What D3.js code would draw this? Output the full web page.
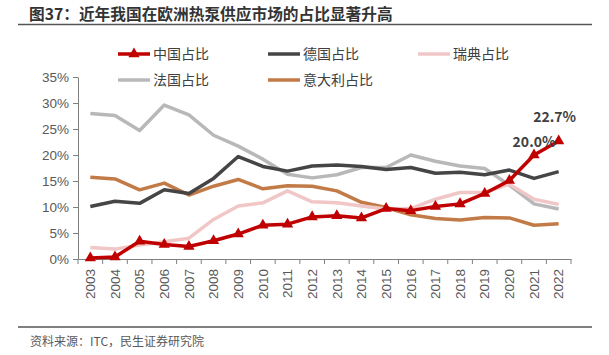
<!DOCTYPE html>
<html><head><meta charset="utf-8">
<script src="https://cdn.jsdelivr.net/npm/d3@7"></script>
<style>body{margin:0;background:#fff;}svg{display:block;font-family:"Noto Sans CJK SC","Noto Sans",sans-serif;}</style>
</head><body><svg id="c" width="609" height="355"></svg>
<script>
const years = ["2003","2004","2005","2006","2007","2008","2009","2010","2011","2012","2013","2014","2015","2016","2017","2018","2019","2020","2021","2022"];
const china   = [0.2,0.4,3.4,2.8,2.4,3.5,4.8,6.5,6.7,8.1,8.3,7.9,9.7,9.3,10.1,10.6,12.6,15.1,20.0,22.7];
const germany = [10.1,11.1,10.7,13.3,12.6,15.5,19.7,17.8,16.9,17.9,18.1,17.8,17.2,17.6,16.5,16.7,16.2,17.1,15.5,16.8];
const sweden  = [2.2,1.9,2.7,3.3,4.0,7.6,10.2,10.8,13.1,11.0,10.8,10.2,9.6,9.7,11.5,12.8,12.8,14.4,11.5,10.5];
const france  = [28.0,27.6,24.7,29.6,27.7,23.8,21.7,19.2,16.3,15.6,16.2,17.6,17.6,20.0,18.8,17.9,17.4,14.2,10.6,9.6];
const italy   = [15.7,15.4,13.3,14.6,12.3,14.0,15.3,13.5,14.1,14.0,13.1,10.9,9.9,8.5,7.8,7.5,8.0,7.9,6.5,6.8];
const yTicks  = [0,5,10,15,20,25,30,35];
const seriesNames = ["中国占比","德国占比","瑞典占比","法国占比","意大利占比"];
const seriesColors = ["#C00000","#454545","#F0C6C6","#B8B8B8","#C27B47"];
const title = "图37：近年我国在欧洲热泵供应市场的占比显著升高";
const source = "资料来源：ITC，民生证券研究院";

const svg = d3.select("#c");
const x = d3.scaleBand().domain(years).range([78, 571]);
const y = d3.scaleLinear().domain([0, 35]).range([259, 77]);
const cx = d => x(d) + x.bandwidth()/2;

// title
svg.append("text").attr("x", 29).attr("y", 19.5).attr("font-size", 15.7).attr("font-weight", "bold")
  .attr("fill", "#333").text(title);
svg.append("line").attr("x1", 18).attr("x2", 592).attr("y1", 24.5).attr("y2", 24.5).attr("stroke", "#555").attr("stroke-width", 1.3);

// axes
const ya = svg.append("g").attr("transform", "translate(78,0)")
  .call(d3.axisLeft(y).tickValues(yTicks).tickFormat(d => d + "%").tickSize(5).tickSizeOuter(0));
ya.select(".domain").attr("stroke", "#808080");
ya.selectAll(".tick line").attr("stroke", "#808080");
ya.selectAll("text").attr("font-size", 13.5).attr("fill", "#595959").attr("x", -9);

const xa = svg.append("g").attr("transform", "translate(0,259)")
  .call(d3.axisBottom(x).tickSize(0).tickSizeOuter(0));
xa.select(".domain").attr("stroke", "#808080");
xa.selectAll(".tick text").attr("font-size", 13.5).attr("fill", "#595959")
  .attr("transform", "rotate(-90)").attr("text-anchor", "end").attr("x", -10).attr("y", 0).attr("dy", "0.35em");
// boundary ticks
const bounds = years.map(d => x(d)).concat([x(years[years.length-1]) + x.bandwidth()]);
svg.append("g").selectAll("line").data(bounds).join("line")
  .attr("x1", d => d).attr("x2", d => d).attr("y1", 259).attr("y2", 264).attr("stroke", "#808080");

// lines
const data = [china, germany, sweden, france, italy];
const order = [3, 4, 1, 2, 0];
const line = d3.line().x((d, i) => cx(years[i])).y(d => y(d));
order.forEach(k => {
  svg.append("path").datum(data[k]).attr("d", line).attr("fill", "none")
    .attr("stroke", seriesColors[k]).attr("stroke-width", 3.5).attr("stroke-linejoin", "round");
});
const tri = d3.symbol().type(d3.symbolTriangle).size(55);
svg.append("g").selectAll("path").data(china).join("path")
  .attr("d", tri).attr("fill", seriesColors[0])
  .attr("transform", (d, i) => `translate(${cx(years[i])},${y(d)})`);

// labels
svg.append("text").attr("x", cx("2021")).attr("y", y(china[18]) - 8).attr("text-anchor", "middle")
  .attr("font-size", 14).attr("font-weight", "bold").attr("fill", "#404040").text(china[18].toFixed(1) + "%");
svg.append("text").attr("x", cx("2022") - 4).attr("y", y(china[19]) - 19).attr("text-anchor", "middle")
  .attr("font-size", 14).attr("font-weight", "bold").attr("fill", "#404040").text(china[19].toFixed(1) + "%");

// legend
const legPos = [[118, 54], [268, 54], [418, 54], [118, 80], [268, 80]];
seriesNames.forEach((n, k) => {
  const [lx, ly] = legPos[k];
  svg.append("line").attr("x1", lx).attr("x2", lx + 32).attr("y1", ly).attr("y2", ly)
    .attr("stroke", seriesColors[k]).attr("stroke-width", 3.5);
  if (k === 0) svg.append("path").attr("d", tri).attr("fill", seriesColors[0]).attr("transform", `translate(${lx+16},${ly})`);
  svg.append("text").attr("x", lx + 35).attr("y", ly).attr("dy", "0.36em").attr("font-size", 14)
    .attr("fill", "#404040").text(n);
});

// footer
svg.append("line").attr("x1", 18).attr("x2", 592).attr("y1", 327).attr("y2", 327).attr("stroke", "#555").attr("stroke-width", 1.3);
svg.append("text").attr("x", 30).attr("y", 346).attr("font-size", 12).attr("fill", "#595959").text(source);
</script></body></html>
